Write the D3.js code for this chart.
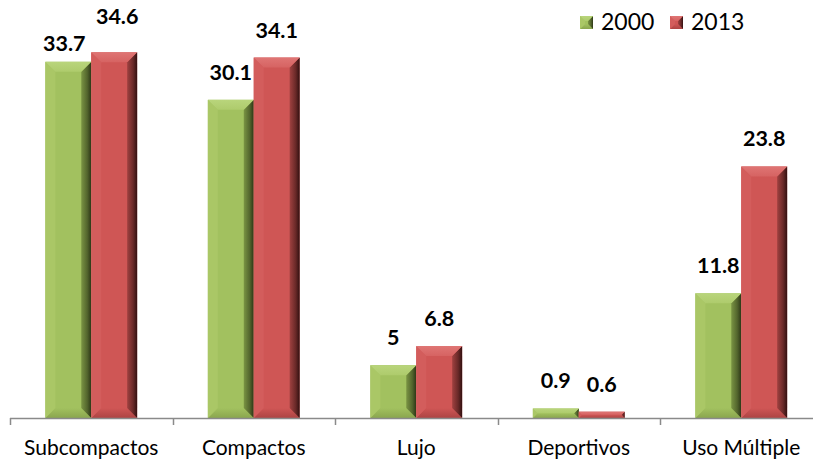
<!DOCTYPE html>
<html>
<head>
<meta charset="utf-8">
<script src="https://cdn.jsdelivr.net/npm/d3@7"></script>
<style>
  html, body { margin: 0; padding: 0; background: #fff; }
  svg { display: block; }
  text { font-family: Lato, "Open Sans", "Noto Sans", sans-serif; fill: #000; }
</style>
</head>
<body>
<svg id="chart" width="813" height="462"></svg>
<script>
// Vehicle segment shares, 2000 vs 2013
const categories = ["Subcompactos", "Compactos", "Lujo", "Deportivos", "Uso Múltiple"];
const seriesNames = ["2000", "2013"];
const values2000 = [33.7, 30.1, 5, 0.9, 11.8];
const values2013 = [34.6, 34.1, 6.8, 0.6, 23.8];
const valueLabels2000 = ["33.7", "30.1", "5", "0.9", "11.8"];
const valueLabels2013 = ["34.6", "34.1", "6.8", "0.6", "23.8"];

const svg = d3.select("#chart");
const W = 813, H = 462;
const baseY = 418;

const x0 = d3.scaleBand().domain(categories).range([10, 822.5]).paddingInner(0).paddingOuter(0);
const x1 = d3.scaleBand().domain(seriesNames).range([0, x0.bandwidth()]).paddingInner(0).paddingOuter(0.77);
const y = d3.scaleLinear().domain([0, 35]).range([baseY, baseY - 35 * 10.57]);

const palette = {
  "2000": { base: "#a2c15f", topA: "#b9d57c", topB: "#aecb6c", left: "#aac766", bottom: "#8aa64e", right: "#7a9443", edge: "#2c3616" },
  "2013": { base: "#cf5655", topA: "#df7574", topB: "#d66362", left: "#d35d5c", bottom: "#ad4443", right: "#a04140", edge: "#321010" }
};

const defs = svg.append("defs");
seriesNames.forEach(s => {
  const c = palette[s];
  const g = defs.append("linearGradient").attr("id", "rg" + s)
    .attr("x1", "0").attr("x2", "1").attr("y1", "0").attr("y2", "0");
  g.append("stop").attr("offset", "0").attr("stop-color", c.right);
  g.append("stop").attr("offset", "0.6").attr("stop-color", d3.interpolateRgb(c.right, c.edge)(0.5));
  g.append("stop").attr("offset", "1").attr("stop-color", c.edge);
  const gb = defs.append("linearGradient").attr("id", "bg" + s)
    .attr("x1", "0").attr("x2", "0").attr("y1", "0").attr("y2", "1");
  gb.append("stop").attr("offset", "0").attr("stop-color", c.base);
  gb.append("stop").attr("offset", "1").attr("stop-color", c.bottom);
  const gt = defs.append("linearGradient").attr("id", "tg" + s)
    .attr("x1", "0").attr("x2", "0").attr("y1", "0").attr("y2", "1");
  gt.append("stop").attr("offset", "0").attr("stop-color", c.topA);
  gt.append("stop").attr("offset", "1").attr("stop-color", c.topB);
});

// Draws a bevelled block (flat face plus four sloped edges)
function bevelBlock(g, s, bx0, by0, bx1, by1, bev) {
  const c = palette[s];
  const w = bx1 - bx0, h = by1 - by0;
  const b = Math.max(0, Math.min(bev, w / 2, h / 2));
  const pts = a => a.map(p => p.join(",")).join(" ");
  g.append("rect").attr("x", bx0).attr("y", by0).attr("width", w).attr("height", h).attr("fill", c.base);
  g.append("polygon").attr("points", pts([[bx0, by1], [bx1, by1], [bx1 - b, by1 - b], [bx0 + b, by1 - b]]))
    .attr("fill", "url(#bg" + s + ")");
  g.append("polygon").attr("points", pts([[bx0, by0], [bx0 + b, by0 + b], [bx0 + b, by1 - b], [bx0, by1]]))
    .attr("fill", c.left);
  g.append("polygon").attr("points", pts([[bx1, by0], [bx1, by1], [bx1 - b, by1 - b], [bx1 - b, by0 + b]]))
    .attr("fill", "url(#rg" + s + ")");
  g.append("polygon").attr("points", pts([[bx0, by0], [bx1, by0], [bx1 - b, by0 + b], [bx0 + b, by0 + b]]))
    .attr("fill", "url(#tg" + s + ")");
}

const rows = categories.map((cat, i) => ({
  cat,
  vals: [
    { s: "2000", v: values2000[i], label: valueLabels2000[i] },
    { s: "2013", v: values2013[i], label: valueLabels2013[i] }
  ]
}));

// Bars
const barsG = svg.append("g");
rows.forEach(r => {
  r.vals.forEach(d => {
    const bx = x0(r.cat) + x1(d.s);
    bevelBlock(barsG, d.s, bx, y(d.v), bx + x1.bandwidth(), y(0), 10);
  });
});

// Category axis: baseline, boundary ticks and labels
svg.append("line").attr("x1", 10).attr("x2", W).attr("y1", baseY + 0.5).attr("y2", baseY + 0.5)
  .attr("stroke", "#8a8a8a").attr("stroke-width", 1.5);
const bounds = categories.map(c => x0(c)).concat([x0.range()[1]]);
svg.append("g").selectAll("line").data(bounds).join("line")
  .attr("x1", d => Math.round(d) + 0.5).attr("x2", d => Math.round(d) + 0.5)
  .attr("y1", baseY).attr("y2", baseY + 7)
  .attr("stroke", "#8a8a8a").attr("stroke-width", 1.5);
svg.append("g").selectAll("text").data(categories).join("text")
  .attr("x", d => x0(d) + x0.bandwidth() / 2)
  .attr("y", 455)
  .attr("text-anchor", "middle")
  .attr("font-size", 21)
  .text(d => d);

// Value labels; the first group's labels are nudged apart so they don't collide
const nudge = { "Subcompactos": { "2000": [-4, 9], "2013": [3, -8] } };
const labelsG = svg.append("g");
rows.forEach(r => {
  r.vals.forEach(d => {
    const n = (nudge[r.cat] && nudge[r.cat][d.s]) || [0, 0];
    labelsG.append("text")
      .attr("x", x0(r.cat) + x1(d.s) + x1.bandwidth() / 2 + n[0])
      .attr("y", y(d.v) - 20 + n[1])
      .attr("text-anchor", "middle")
      .attr("font-size", 21.5)
      .attr("font-weight", "bold")
      .text(d.label);
  });
});

// Legend
const legend = svg.append("g");
const legendX = [580, 670];
seriesNames.forEach((s, i) => {
  bevelBlock(legend, s, legendX[i], 16, legendX[i] + 13, 29, 5);
  legend.append("text").attr("x", legendX[i] + 21).attr("y", 30)
    .attr("font-size", 23).text(s);
});
</script>
</body>
</html>
